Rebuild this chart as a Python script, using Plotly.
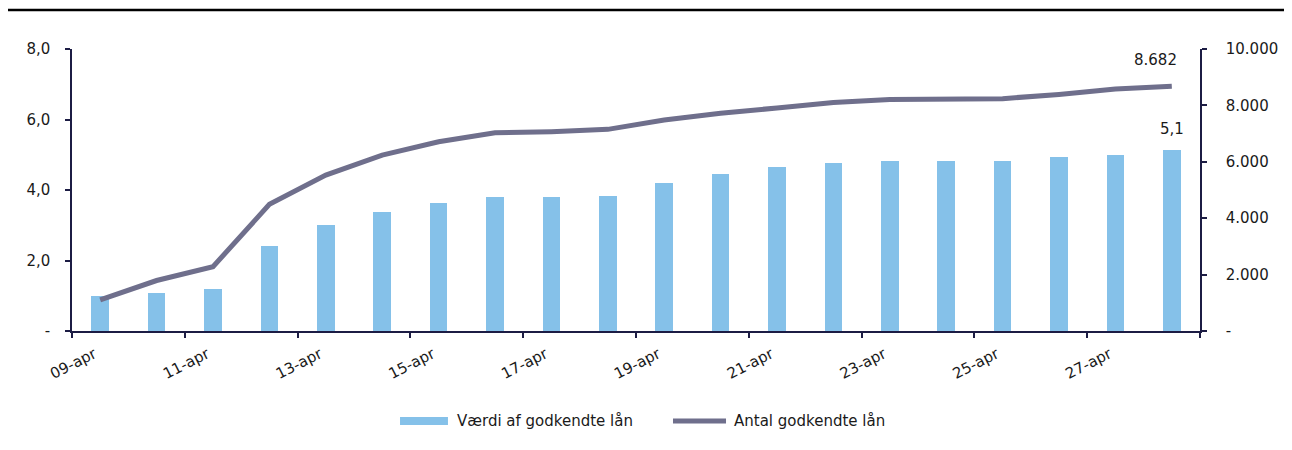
import plotly.graph_objects as go

dates = ["09-apr", "10-apr", "11-apr", "12-apr", "13-apr", "14-apr", "15-apr", "16-apr",
         "17-apr", "18-apr", "19-apr", "20-apr", "21-apr", "22-apr", "23-apr", "24-apr",
         "25-apr", "26-apr", "27-apr", "28-apr"]
value_bn = [1.0, 1.08, 1.19, 2.41, 3.0, 3.39, 3.64, 3.8, 3.81, 3.83, 4.21, 4.45, 4.65,
            4.76, 4.81, 4.81, 4.82, 4.93, 4.98, 5.13]
count_loans = [1100, 1790, 2280, 4490, 5530, 6240, 6710, 7030, 7070, 7150, 7480, 7720,
               7910, 8100, 8210, 8230, 8240, 8390, 8580, 8682]
left_ticks = [0, 2, 4, 6, 8]
right_ticks = [0, 2000, 4000, 6000, 8000, 10000]

bar_name = "Værdi af godkendte lån"
line_name = "Antal godkendte lån"

BAR_COLOR = "#85C1E9"
LINE_COLOR = "#6F6F8C"
AXIS_COLOR = "#1C1C44"
TEXT_COLOR = "#1A1A1A"
FONT = "DejaVu Sans"


def fmt_left(v):
    return "-" if v == 0 else f"{v:.1f}".replace(".", ",")


def fmt_right(v):
    return "-" if v == 0 else f"{v:,.0f}".replace(",", ".")


xs = list(range(len(dates)))

fig = go.Figure()
fig.add_trace(go.Bar(x=xs, y=value_bn, name=bar_name, marker=dict(color=BAR_COLOR, line=dict(width=0)),
                     width=0.31, yaxis="y", showlegend=False))
fig.add_trace(go.Scatter(x=xs, y=count_loans, name=line_name, mode="lines",
                         line=dict(color=LINE_COLOR, width=5), yaxis="y2", showlegend=False))

fig.add_annotation(x=xs[-1], y=count_loans[-1], yref="y2", text=fmt_right(count_loans[-1]),
                   showarrow=False, xanchor="right", yanchor="bottom", xshift=7, yshift=15,
                   font=dict(size=15, color=TEXT_COLOR, family=FONT))
fig.add_annotation(x=xs[-1], y=value_bn[-1], yref="y", text=fmt_left(round(value_bn[-1], 1)),
                   showarrow=False, xanchor="center", yanchor="bottom", yshift=10,
                   font=dict(size=15, color=TEXT_COLOR, family=FONT))

# top rule
fig.add_shape(type="line", xref="paper", yref="paper", x0=-0.060, x1=1.082, y0=1.138, y1=1.138,
              line=dict(color="black", width=2.5))

# legend drawn by hand (wide swatches like the original)
LEG_Y = -0.319
fig.add_shape(type="rect", xref="paper", yref="paper", x0=0.2908, x1=0.3333, y0=-0.333, y1=-0.305,
              fillcolor=BAR_COLOR, line=dict(width=0))
fig.add_annotation(xref="paper", yref="paper", x=0.3395, y=LEG_Y, text=bar_name, showarrow=False,
                   xanchor="left", yanchor="middle", font=dict(size=15, color=TEXT_COLOR, family=FONT))
fig.add_shape(type="line", xref="paper", yref="paper", x0=0.5328, x1=0.5798, y0=LEG_Y, y1=LEG_Y,
              line=dict(color=LINE_COLOR, width=5))
fig.add_annotation(xref="paper", yref="paper", x=0.5852, y=LEG_Y, text=line_name, showarrow=False,
                   xanchor="left", yanchor="middle", font=dict(size=15, color=TEXT_COLOR, family=FONT))

fig.update_layout(
    width=1284, height=442,
    margin=dict(l=64, r=92, t=41, b=119),
    paper_bgcolor="white", plot_bgcolor="white",
    font=dict(family=FONT, size=15, color=TEXT_COLOR),
    bargap=0.0,
    showlegend=False,
    xaxis=dict(range=[-0.5, len(dates) - 0.5], tickmode="array",
               tickvals=xs[::2], ticktext=dates[::2], tickangle=-27, ticks="", ticklen=0,
               showline=True, linecolor=AXIS_COLOR, linewidth=1.5, showgrid=False, zeroline=False,
               tickfont=dict(size=15, color=TEXT_COLOR), ticklabelstandoff=7, ticklabelshift=-6,
               minor=dict(tickmode="array", tickvals=[i - 0.5 for i in xs[::2]] + [xs[-1] + 0.5],
                          ticks="outside", ticklen=5, tickwidth=1.5, tickcolor=AXIS_COLOR, showgrid=False)),
    yaxis=dict(range=[0, 8], tickmode="array", tickvals=left_ticks,
               ticktext=[fmt_left(v) for v in left_ticks], ticks="outside", ticklen=5,
               tickwidth=1.5, tickcolor=AXIS_COLOR, showline=True, linecolor=AXIS_COLOR,
               linewidth=1.5, showgrid=False, zeroline=False, ticklabelstandoff=12),
    yaxis2=dict(range=[0, 10000], overlaying="y", side="right", tickmode="array",
                tickvals=right_ticks, ticktext=[fmt_right(v) for v in right_ticks],
                ticks="outside", ticklen=5, tickwidth=1.5, tickcolor=AXIS_COLOR, showline=True,
                linecolor=AXIS_COLOR, linewidth=1.5, showgrid=False, zeroline=False,
                ticklabelstandoff=16),
)

fig.write_html("out.html")
